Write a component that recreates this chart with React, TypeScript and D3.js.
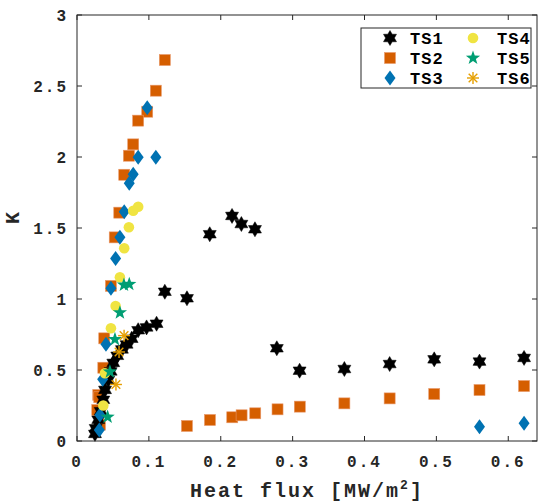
import React from "react";
import * as d3 from "d3";

const seriesNames = ["TS1", "TS2", "TS3", "TS4", "TS5", "TS6"];
const seriesColors = ["#000000", "#D55E00", "#0072B2", "#F0E442", "#009E73", "#E69F00"];

const ts1X = [0.025, 0.026, 0.0296, 0.033, 0.0366, 0.039, 0.0435, 0.0468, 0.0505, 0.056, 0.0625, 0.069, 0.076, 0.0851, 0.0968, 0.1107, 0.1222, 0.153, 0.1847, 0.2157, 0.2287, 0.2476, 0.278, 0.3097, 0.372, 0.435, 0.497, 0.56, 0.622];
const ts1Y = [0.05, 0.09, 0.15, 0.21, 0.29, 0.36, 0.43, 0.49, 0.55, 0.6, 0.645, 0.68, 0.72, 0.78, 0.8, 0.826, 1.051, 1.005, 1.456, 1.585, 1.528, 1.491, 0.653, 0.495, 0.507, 0.542, 0.575, 0.559, 0.585];

const ts2X = [0.1222, 0.1097, 0.0977, 0.0851, 0.0782, 0.0722, 0.0657, 0.0588, 0.0525, 0.0472, 0.0379, 0.0366, 0.0296, 0.031, 0.0282, 0.0319, 0.153, 0.185, 0.216, 0.229, 0.248, 0.279, 0.31, 0.372, 0.435, 0.497, 0.56, 0.622];
const ts2Y = [2.683, 2.467, 2.319, 2.256, 2.089, 2.009, 1.875, 1.608, 1.434, 1.092, 0.723, 0.516, 0.324, 0.308, 0.218, 0.115, 0.106, 0.148, 0.167, 0.181, 0.195, 0.223, 0.242, 0.265, 0.3, 0.331, 0.359, 0.387];

const ts3X = [0.0977, 0.0851, 0.1097, 0.0782, 0.0727, 0.0657, 0.0597, 0.0537, 0.0472, 0.0403, 0.0357, 0.0319, 0.031, 0.56, 0.622];
const ts3Y = [2.347, 1.998, 1.998, 1.878, 1.815, 1.615, 1.434, 1.286, 1.075, 0.681, 0.434, 0.183, 0.077, 0.1, 0.125];

const ts4X = [0.0851, 0.0782, 0.0722, 0.0657, 0.0597, 0.0537, 0.0472, 0.0389, 0.0366];
const ts4Y = [1.65, 1.622, 1.505, 1.357, 1.153, 0.951, 0.794, 0.477, 0.25];

const ts5X = [0.0653, 0.0727, 0.0597, 0.0528, 0.0458, 0.0426];
const ts5Y = [1.099, 1.104, 0.904, 0.716, 0.488, 0.169];

const ts6X = [0.0655, 0.0585, 0.0542];
const ts6Y = [0.742, 0.627, 0.398];

const xTicks = [0, 0.1, 0.2, 0.3, 0.4, 0.5, 0.6];
const yTicks = [0, 0.5, 1, 1.5, 2, 2.5, 3];
const xTickLabels = ["0", "0.1", "0.2", "0.3", "0.4", "0.5", "0.6"];
const yTickLabels = ["0", "0.5", "1", "1.5", "2", "2.5", "3"];

const W = 542, H = 503;
const L = 77, R = 537, T = 15, B = 441;
const FONT = "'Liberation Mono', 'DejaVu Sans Mono', monospace";

function starPath(n: number, ro: number, ri: number): string {
  const pts: [number, number][] = [];
  for (let i = 0; i < 2 * n; i++) {
    const a = -Math.PI / 2 + (i * Math.PI) / n;
    const r = i % 2 === 0 ? ro : ri;
    pts.push([r * Math.cos(a), r * Math.sin(a)]);
  }
  return d3.line()(pts)! + "Z";
}

function Marker({ k, x, y }: { k: number; x: number; y: number }) {
  const c = seriesColors[k];
  const tr = `translate(${x},${y})`;
  if (k === 0) return <path transform={tr} d={starPath(6, 7.5, 4.4)} fill={c} stroke={c} strokeWidth={0.5} />;
  if (k === 1) return <rect x={x - 5.5} y={y - 5.5} width={11} height={11} fill={c} stroke="#e8986a" strokeWidth={0.6} />;
  if (k === 2) return <path transform={tr} d="M0,-7.5L5.5,0L0,7.5L-5.5,0Z" fill={c} />;
  if (k === 3) return <circle cx={x} cy={y} r={5.3} fill={c} />;
  if (k === 4) return <path transform={tr} d={starPath(5, 7.5, 3.0)} fill={c} />;
  const s = 6, d = 4.3;
  return (
    <g transform={tr} stroke={c} strokeWidth={1.4}>
      <line x1={-s} y1={0} x2={s} y2={0} />
      <line x1={0} y1={-s} x2={0} y2={s} />
      <line x1={-d} y1={-d} x2={d} y2={d} />
      <line x1={-d} y1={d} x2={d} y2={-d} />
    </g>
  );
}

export default function App() {
  const x = d3.scaleLinear().domain([0, 0.64]).range([L, R]);
  const y = d3.scaleLinear().domain([0, 3]).range([B, T]);
  const xs = [ts1X, ts2X, ts3X, ts4X, ts5X, ts6X];
  const ys = [ts1Y, ts2Y, ts3Y, ts4Y, ts5Y, ts6Y];
  const drawOrder = [1, 0, 2, 3, 4, 5];
  const axisColor = "#262626";
  const tl = 5;
  const legendPos = [
    [390, 38], [390, 58], [390, 78], [473, 38], [473, 58], [473, 78],
  ];
  return (
    <svg width={W} height={H} style={{ position: "absolute", left: 0, top: 0, background: "#fff" }}>
      <rect x={0} y={0} width={W} height={H} fill="#fff" />
      {drawOrder.map((k) => (
        <g key={k}>
          {xs[k].map((v, i) => (
            <Marker key={i} k={k} x={x(v)} y={y(ys[k][i])} />
          ))}
        </g>
      ))}
      <rect x={L} y={T} width={R - L} height={B - T} fill="none" stroke={axisColor} strokeWidth={1} />
      {xTicks.map((t, i) => (
        <g key={"x" + i}>
          <line x1={x(t)} x2={x(t)} y1={B} y2={B - tl} stroke={axisColor} />
          <line x1={x(t)} x2={x(t)} y1={T} y2={T + tl} stroke={axisColor} />
          <text x={x(t)} y={467} textAnchor="middle" fontFamily={FONT} fontWeight="bold" fontSize={16} letterSpacing={2} fill="#262626">
            {xTickLabels[i]}
          </text>
        </g>
      ))}
      {yTicks.map((t, i) => (
        <g key={"y" + i}>
          <line x1={L} x2={L + tl} y1={y(t)} y2={y(t)} stroke={axisColor} />
          <line x1={R} x2={R - tl} y1={y(t)} y2={y(t)} stroke={axisColor} />
          <text x={68} y={y(t) + 5.5} textAnchor="end" fontFamily={FONT} fontWeight="bold" fontSize={16} letterSpacing={2} fill="#262626">
            {yTickLabels[i]}
          </text>
        </g>
      ))}
      <text x={307} y={497} textAnchor="middle" fontFamily={FONT} fontWeight="bold" fontSize={20} letterSpacing={2} fill="#262626">
        Heat flux [MW/m<tspan dy={-8} fontSize={13}>2</tspan><tspan dy={8}>]</tspan>
      </text>
      <text transform="translate(19,218) rotate(-90)" textAnchor="middle" fontFamily={FONT} fontWeight="bold" fontSize={20} fill="#262626">
        K
      </text>
      <rect x={361} y={28} width={170} height={60} fill="#fff" stroke={axisColor} strokeWidth={1} />
      {seriesNames.map((n, k) => (
        <g key={n}>
          <Marker k={k} x={legendPos[k][0]} y={legendPos[k][1]} />
          <text x={legendPos[k][0] + (k < 3 ? 20 : 24)} y={legendPos[k][1] + 6} fontFamily={FONT} fontWeight="bold" fontSize={17} letterSpacing={1} fill="#000">
            {n}
          </text>
        </g>
      ))}
    </svg>
  );
}
